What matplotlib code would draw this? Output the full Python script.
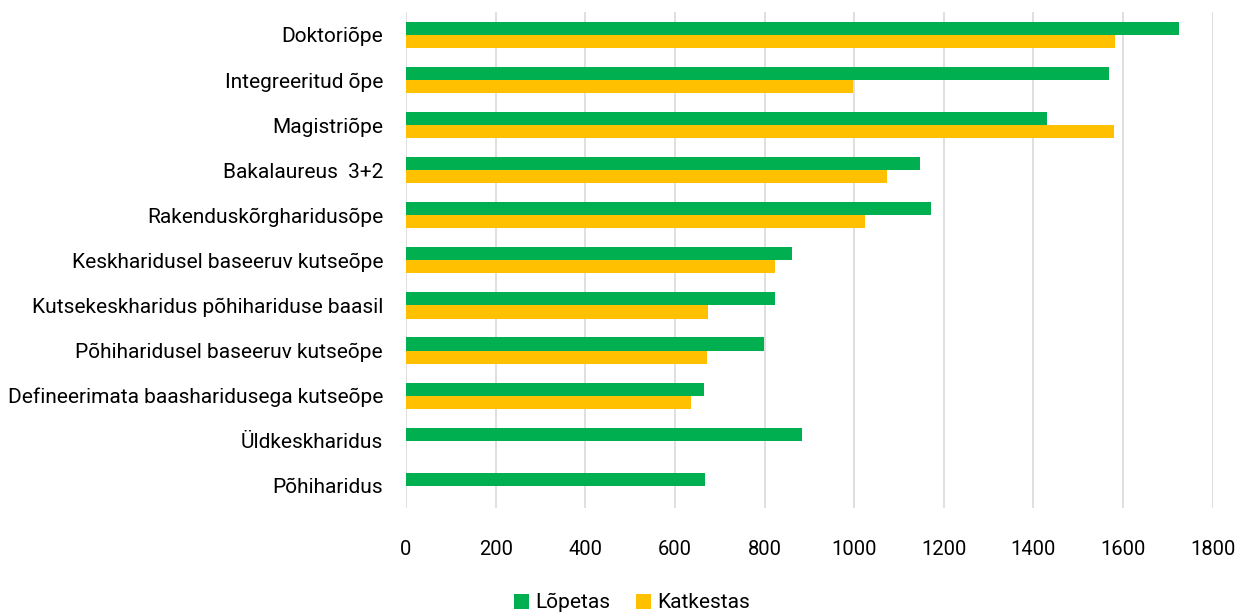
import matplotlib
matplotlib.use('Agg')
import matplotlib.pyplot as plt
import numpy as np

plt.rcParams['font.family'] = ['Roboto', 'DejaVu Sans']

# categories, top to bottom
categories = ['Doktoriõpe', 'Integreeritud õpe', 'Magistriõpe', 'Bakalaureus  3+2',
              'Rakenduskõrgharidusõpe', 'Keskharidusel baseeruv kutseõpe',
              'Kutsekeskharidus põhihariduse baasil', 'Põhiharidusel baseeruv kutseõpe',
              'Defineerimata baasharidusega kutseõpe', 'Üldkeskharidus', 'Põhiharidus']
lopetas = [1726, 1568, 1430, 1146, 1172, 861, 823, 798, 665, 883, 667]
katkestas = [1583, 998, 1580, 1073, 1024, 824, 674, 672, 636, 0, 0]
xticks = [0, 200, 400, 600, 800, 1000, 1200, 1400, 1600, 1800]

fig = plt.figure(figsize=(12.39, 6.14), dpi=100)
ax = fig.add_axes([0.3277, 0.172, 0.651, 0.808])

y = np.arange(len(categories))
h = 0.29
ax.barh(y - h/2, lopetas, height=h, color='#00B050', label='Lõpetas', zorder=3)
ax.barh(y + h/2, katkestas, height=h, color='#FFC000', label='Katkestas', zorder=3)

ax.set_yticks(y)
ax.set_yticklabels(categories, fontsize=15)
ax.set_ylim(len(categories) - 0.5, -0.5)
ax.set_xlim(0, 1800)
ax.set_xticks(xticks)
ax.set_xticklabels([str(v) for v in xticks], fontsize=14.5)
ax.tick_params(axis='both', length=0)
ax.tick_params(axis='x', pad=23)
ax.tick_params(axis='y', pad=16.5)
ax.grid(axis='x', color='#d9d9d9', linewidth=1.2, zorder=0)
for s in ax.spines.values():
    s.set_visible(False)

fig.legend(loc='lower center', bbox_to_anchor=(0.51, -0.028), ncol=2, frameon=False,
           fontsize=15, handlelength=0.75, handleheight=0.75, handletextpad=0.3,
           columnspacing=1.2)

fig.savefig('out.png', dpi=100)
